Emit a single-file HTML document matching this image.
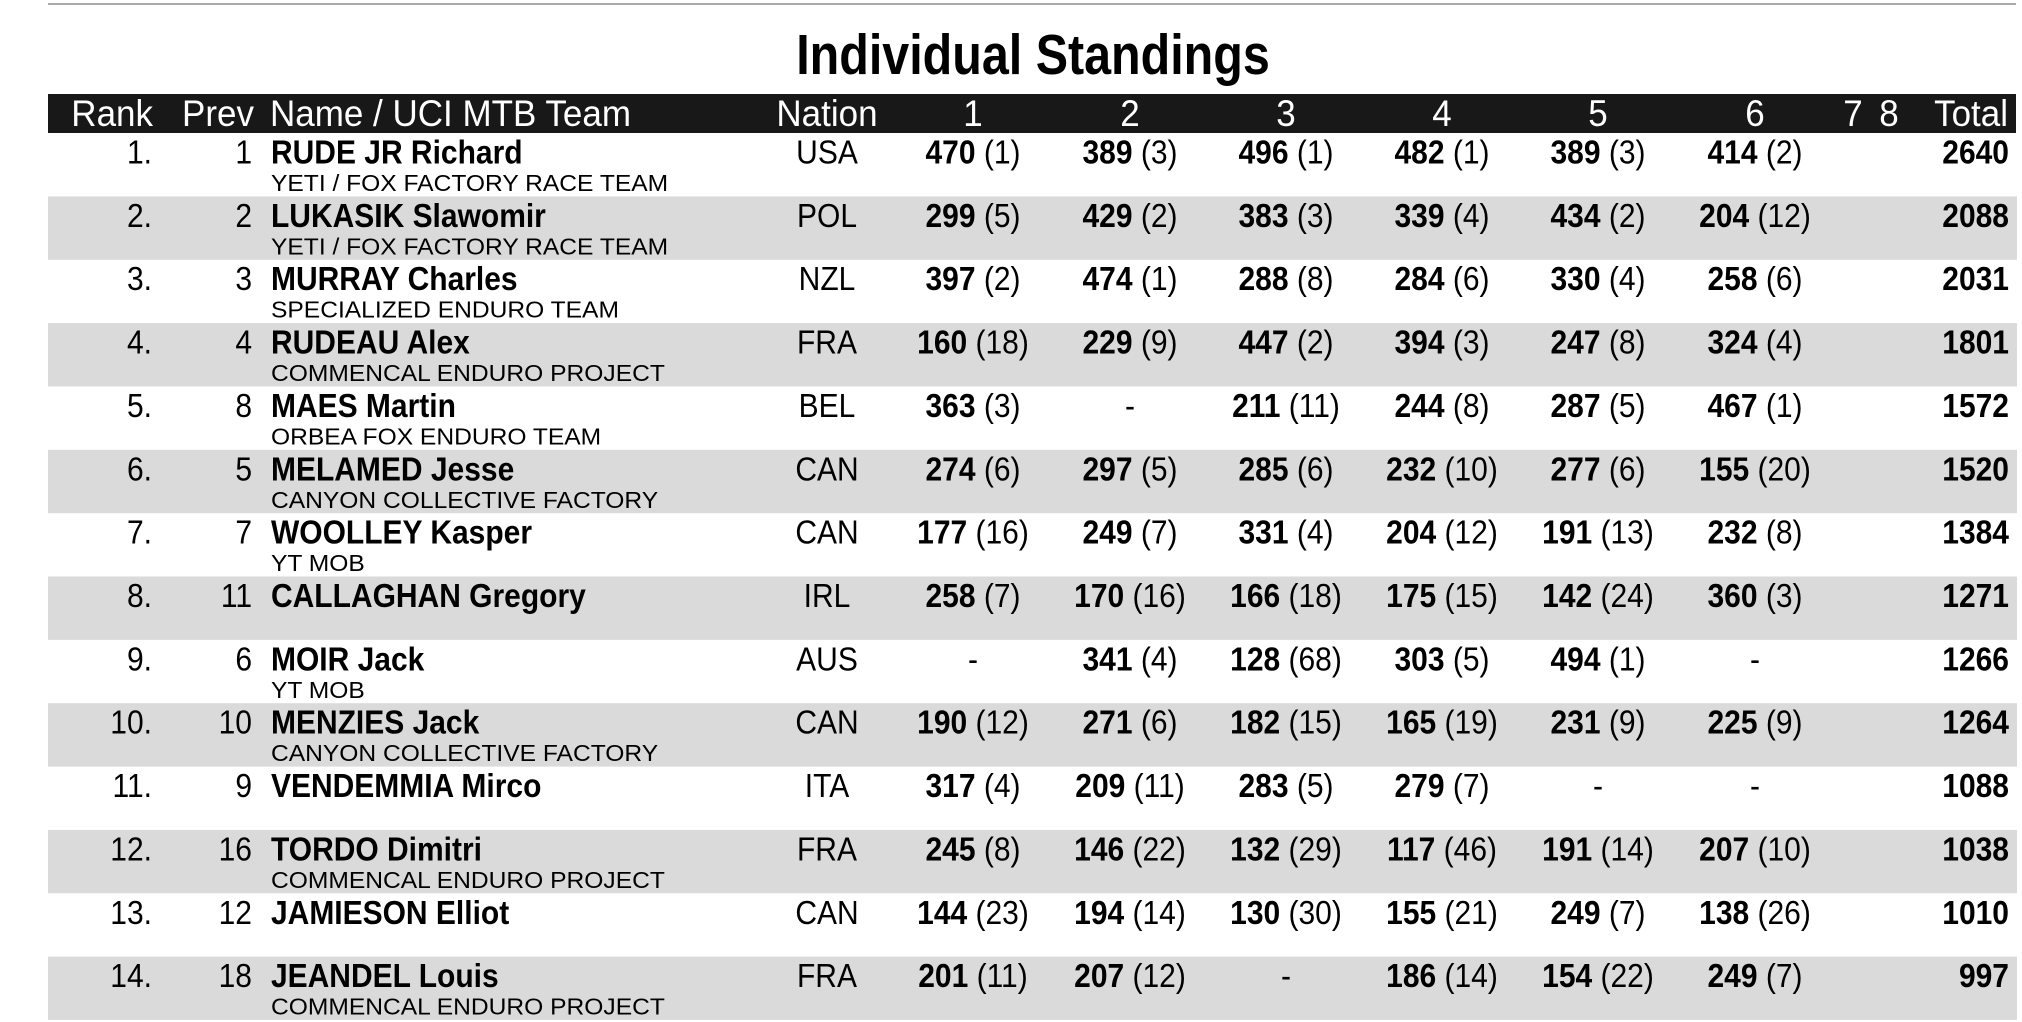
<!DOCTYPE html>
<html>
<head>
<meta charset="utf-8">
<style>
  html, body { margin:0; padding:0; background:#fff; }
  svg { display:block; }
  text { font-family: "Liberation Sans", Arial, sans-serif; fill:#000; }
  .hd { fill:#fff; font-size:35px; }
  .d { font-size:30px; }
  .b { font-weight:bold; }
  .tm { font-size:23px; }
</style>
</head>
<body>
<svg width="2022" height="1022" viewBox="0 0 2022 1022" xmlns="http://www.w3.org/2000/svg">
  <rect x="0" y="0" width="2022" height="1022" fill="#fff"/>
  <rect x="48" y="3" width="1968" height="2" fill="#a8a8a8"/>
  <text class="b" font-size="57" text-anchor="middle" transform="translate(1033,74) scale(0.85,1)">Individual Standings</text>

  <!-- row backgrounds -->
  <rect x="48" y="196.4" width="1969" height="63.4" fill="#dadada"/>
  <rect x="48" y="323.1" width="1969" height="63.4" fill="#dadada"/>
  <rect x="48" y="449.8" width="1969" height="63.4" fill="#dadada"/>
  <rect x="48" y="576.5" width="1969" height="63.4" fill="#dadada"/>
  <rect x="48" y="703.2" width="1969" height="63.4" fill="#dadada"/>
  <rect x="48" y="829.9" width="1969" height="63.4" fill="#dadada"/>
  <rect x="48" y="956.6" width="1969" height="63.4" fill="#dadada"/>

  <!-- header -->
  <rect x="48" y="94" width="1968" height="39" fill="#181818"/>
  <g transform="translate(0,126) scale(1,1.05)">
    <text class="hd" x="153" y="0" text-anchor="end">Rank</text>
    <text class="hd" x="254" y="0" text-anchor="end">Prev</text>
    <text class="hd" x="270" y="0">Name / UCI MTB Team</text>
    <text class="hd" x="827" y="0" text-anchor="middle">Nation</text>
    <text class="hd" x="973" y="0" text-anchor="middle">1</text>
    <text class="hd" x="1130" y="0" text-anchor="middle">2</text>
    <text class="hd" x="1286" y="0" text-anchor="middle">3</text>
    <text class="hd" x="1442" y="0" text-anchor="middle">4</text>
    <text class="hd" x="1598" y="0" text-anchor="middle">5</text>
    <text class="hd" x="1755" y="0" text-anchor="middle">6</text>
    <text class="hd" x="1853" y="0" text-anchor="middle">7</text>
    <text class="hd" x="1889" y="0" text-anchor="middle">8</text>
    <text class="hd" x="2008" y="0" text-anchor="end">Total</text>
  </g>

  <!-- Row 1 -->
  <g transform="translate(0,133)">
    <g transform="translate(0,30.5) scale(1,1.1)">
      <text class="d" x="152" y="0" text-anchor="end">1.</text>
      <text class="d" x="252" y="0" text-anchor="end">1</text>
      <text class="d b" x="271" y="0">RUDE JR Richard</text>
      <text class="d" x="827" y="0" text-anchor="middle">USA</text>
      <text class="d" x="973" y="0" text-anchor="middle"><tspan class="b">470</tspan> (1)</text>
      <text class="d" x="1130" y="0" text-anchor="middle"><tspan class="b">389</tspan> (3)</text>
      <text class="d" x="1286" y="0" text-anchor="middle"><tspan class="b">496</tspan> (1)</text>
      <text class="d" x="1442" y="0" text-anchor="middle"><tspan class="b">482</tspan> (1)</text>
      <text class="d" x="1598" y="0" text-anchor="middle"><tspan class="b">389</tspan> (3)</text>
      <text class="d" x="1755" y="0" text-anchor="middle"><tspan class="b">414</tspan> (2)</text>
      <text class="d b" x="2009" y="0" text-anchor="end">2640</text>
    </g>
    <text class="tm" transform="translate(271,58) scale(1.07,1)">YETI / FOX FACTORY RACE TEAM</text>
  </g>

  <!-- Row 2 -->
  <g transform="translate(0,196.4)">
    <g transform="translate(0,30.5) scale(1,1.1)">
      <text class="d" x="152" y="0" text-anchor="end">2.</text>
      <text class="d" x="252" y="0" text-anchor="end">2</text>
      <text class="d b" x="271" y="0">LUKASIK Slawomir</text>
      <text class="d" x="827" y="0" text-anchor="middle">POL</text>
      <text class="d" x="973" y="0" text-anchor="middle"><tspan class="b">299</tspan> (5)</text>
      <text class="d" x="1130" y="0" text-anchor="middle"><tspan class="b">429</tspan> (2)</text>
      <text class="d" x="1286" y="0" text-anchor="middle"><tspan class="b">383</tspan> (3)</text>
      <text class="d" x="1442" y="0" text-anchor="middle"><tspan class="b">339</tspan> (4)</text>
      <text class="d" x="1598" y="0" text-anchor="middle"><tspan class="b">434</tspan> (2)</text>
      <text class="d" x="1755" y="0" text-anchor="middle"><tspan class="b">204</tspan> (12)</text>
      <text class="d b" x="2009" y="0" text-anchor="end">2088</text>
    </g>
    <text class="tm" transform="translate(271,58) scale(1.07,1)">YETI / FOX FACTORY RACE TEAM</text>
  </g>

  <!-- Row 3 -->
  <g transform="translate(0,259.7)">
    <g transform="translate(0,30.5) scale(1,1.1)">
      <text class="d" x="152" y="0" text-anchor="end">3.</text>
      <text class="d" x="252" y="0" text-anchor="end">3</text>
      <text class="d b" x="271" y="0">MURRAY Charles</text>
      <text class="d" x="827" y="0" text-anchor="middle">NZL</text>
      <text class="d" x="973" y="0" text-anchor="middle"><tspan class="b">397</tspan> (2)</text>
      <text class="d" x="1130" y="0" text-anchor="middle"><tspan class="b">474</tspan> (1)</text>
      <text class="d" x="1286" y="0" text-anchor="middle"><tspan class="b">288</tspan> (8)</text>
      <text class="d" x="1442" y="0" text-anchor="middle"><tspan class="b">284</tspan> (6)</text>
      <text class="d" x="1598" y="0" text-anchor="middle"><tspan class="b">330</tspan> (4)</text>
      <text class="d" x="1755" y="0" text-anchor="middle"><tspan class="b">258</tspan> (6)</text>
      <text class="d b" x="2009" y="0" text-anchor="end">2031</text>
    </g>
    <text class="tm" transform="translate(271,58) scale(1.07,1)">SPECIALIZED ENDURO TEAM</text>
  </g>

  <!-- Row 4 -->
  <g transform="translate(0,323.1)">
    <g transform="translate(0,30.5) scale(1,1.1)">
      <text class="d" x="152" y="0" text-anchor="end">4.</text>
      <text class="d" x="252" y="0" text-anchor="end">4</text>
      <text class="d b" x="271" y="0">RUDEAU Alex</text>
      <text class="d" x="827" y="0" text-anchor="middle">FRA</text>
      <text class="d" x="973" y="0" text-anchor="middle"><tspan class="b">160</tspan> (18)</text>
      <text class="d" x="1130" y="0" text-anchor="middle"><tspan class="b">229</tspan> (9)</text>
      <text class="d" x="1286" y="0" text-anchor="middle"><tspan class="b">447</tspan> (2)</text>
      <text class="d" x="1442" y="0" text-anchor="middle"><tspan class="b">394</tspan> (3)</text>
      <text class="d" x="1598" y="0" text-anchor="middle"><tspan class="b">247</tspan> (8)</text>
      <text class="d" x="1755" y="0" text-anchor="middle"><tspan class="b">324</tspan> (4)</text>
      <text class="d b" x="2009" y="0" text-anchor="end">1801</text>
    </g>
    <text class="tm" transform="translate(271,58) scale(1.07,1)">COMMENCAL ENDURO PROJECT</text>
  </g>

  <!-- Row 5 -->
  <g transform="translate(0,386.4)">
    <g transform="translate(0,30.5) scale(1,1.1)">
      <text class="d" x="152" y="0" text-anchor="end">5.</text>
      <text class="d" x="252" y="0" text-anchor="end">8</text>
      <text class="d b" x="271" y="0">MAES Martin</text>
      <text class="d" x="827" y="0" text-anchor="middle">BEL</text>
      <text class="d" x="973" y="0" text-anchor="middle"><tspan class="b">363</tspan> (3)</text>
      <text class="d" x="1130" y="0" text-anchor="middle">-</text>
      <text class="d" x="1286" y="0" text-anchor="middle"><tspan class="b">211</tspan> (11)</text>
      <text class="d" x="1442" y="0" text-anchor="middle"><tspan class="b">244</tspan> (8)</text>
      <text class="d" x="1598" y="0" text-anchor="middle"><tspan class="b">287</tspan> (5)</text>
      <text class="d" x="1755" y="0" text-anchor="middle"><tspan class="b">467</tspan> (1)</text>
      <text class="d b" x="2009" y="0" text-anchor="end">1572</text>
    </g>
    <text class="tm" transform="translate(271,58) scale(1.07,1)">ORBEA FOX ENDURO TEAM</text>
  </g>

  <!-- Row 6 -->
  <g transform="translate(0,449.8)">
    <g transform="translate(0,30.5) scale(1,1.1)">
      <text class="d" x="152" y="0" text-anchor="end">6.</text>
      <text class="d" x="252" y="0" text-anchor="end">5</text>
      <text class="d b" x="271" y="0">MELAMED Jesse</text>
      <text class="d" x="827" y="0" text-anchor="middle">CAN</text>
      <text class="d" x="973" y="0" text-anchor="middle"><tspan class="b">274</tspan> (6)</text>
      <text class="d" x="1130" y="0" text-anchor="middle"><tspan class="b">297</tspan> (5)</text>
      <text class="d" x="1286" y="0" text-anchor="middle"><tspan class="b">285</tspan> (6)</text>
      <text class="d" x="1442" y="0" text-anchor="middle"><tspan class="b">232</tspan> (10)</text>
      <text class="d" x="1598" y="0" text-anchor="middle"><tspan class="b">277</tspan> (6)</text>
      <text class="d" x="1755" y="0" text-anchor="middle"><tspan class="b">155</tspan> (20)</text>
      <text class="d b" x="2009" y="0" text-anchor="end">1520</text>
    </g>
    <text class="tm" transform="translate(271,58) scale(1.07,1)">CANYON COLLECTIVE FACTORY</text>
  </g>

  <!-- Row 7 -->
  <g transform="translate(0,513.2)">
    <g transform="translate(0,30.5) scale(1,1.1)">
      <text class="d" x="152" y="0" text-anchor="end">7.</text>
      <text class="d" x="252" y="0" text-anchor="end">7</text>
      <text class="d b" x="271" y="0">WOOLLEY Kasper</text>
      <text class="d" x="827" y="0" text-anchor="middle">CAN</text>
      <text class="d" x="973" y="0" text-anchor="middle"><tspan class="b">177</tspan> (16)</text>
      <text class="d" x="1130" y="0" text-anchor="middle"><tspan class="b">249</tspan> (7)</text>
      <text class="d" x="1286" y="0" text-anchor="middle"><tspan class="b">331</tspan> (4)</text>
      <text class="d" x="1442" y="0" text-anchor="middle"><tspan class="b">204</tspan> (12)</text>
      <text class="d" x="1598" y="0" text-anchor="middle"><tspan class="b">191</tspan> (13)</text>
      <text class="d" x="1755" y="0" text-anchor="middle"><tspan class="b">232</tspan> (8)</text>
      <text class="d b" x="2009" y="0" text-anchor="end">1384</text>
    </g>
    <text class="tm" transform="translate(271,58) scale(1.07,1)">YT MOB</text>
  </g>

  <!-- Row 8 -->
  <g transform="translate(0,576.5)">
    <g transform="translate(0,30.5) scale(1,1.1)">
      <text class="d" x="152" y="0" text-anchor="end">8.</text>
      <text class="d" x="252" y="0" text-anchor="end">11</text>
      <text class="d b" x="271" y="0">CALLAGHAN Gregory</text>
      <text class="d" x="827" y="0" text-anchor="middle">IRL</text>
      <text class="d" x="973" y="0" text-anchor="middle"><tspan class="b">258</tspan> (7)</text>
      <text class="d" x="1130" y="0" text-anchor="middle"><tspan class="b">170</tspan> (16)</text>
      <text class="d" x="1286" y="0" text-anchor="middle"><tspan class="b">166</tspan> (18)</text>
      <text class="d" x="1442" y="0" text-anchor="middle"><tspan class="b">175</tspan> (15)</text>
      <text class="d" x="1598" y="0" text-anchor="middle"><tspan class="b">142</tspan> (24)</text>
      <text class="d" x="1755" y="0" text-anchor="middle"><tspan class="b">360</tspan> (3)</text>
      <text class="d b" x="2009" y="0" text-anchor="end">1271</text>
    </g>
  </g>

  <!-- Row 9 -->
  <g transform="translate(0,639.9)">
    <g transform="translate(0,30.5) scale(1,1.1)">
      <text class="d" x="152" y="0" text-anchor="end">9.</text>
      <text class="d" x="252" y="0" text-anchor="end">6</text>
      <text class="d b" x="271" y="0">MOIR Jack</text>
      <text class="d" x="827" y="0" text-anchor="middle">AUS</text>
      <text class="d" x="973" y="0" text-anchor="middle">-</text>
      <text class="d" x="1130" y="0" text-anchor="middle"><tspan class="b">341</tspan> (4)</text>
      <text class="d" x="1286" y="0" text-anchor="middle"><tspan class="b">128</tspan> (68)</text>
      <text class="d" x="1442" y="0" text-anchor="middle"><tspan class="b">303</tspan> (5)</text>
      <text class="d" x="1598" y="0" text-anchor="middle"><tspan class="b">494</tspan> (1)</text>
      <text class="d" x="1755" y="0" text-anchor="middle">-</text>
      <text class="d b" x="2009" y="0" text-anchor="end">1266</text>
    </g>
    <text class="tm" transform="translate(271,58) scale(1.07,1)">YT MOB</text>
  </g>

  <!-- Row 10 -->
  <g transform="translate(0,703.2)">
    <g transform="translate(0,30.5) scale(1,1.1)">
      <text class="d" x="152" y="0" text-anchor="end">10.</text>
      <text class="d" x="252" y="0" text-anchor="end">10</text>
      <text class="d b" x="271" y="0">MENZIES Jack</text>
      <text class="d" x="827" y="0" text-anchor="middle">CAN</text>
      <text class="d" x="973" y="0" text-anchor="middle"><tspan class="b">190</tspan> (12)</text>
      <text class="d" x="1130" y="0" text-anchor="middle"><tspan class="b">271</tspan> (6)</text>
      <text class="d" x="1286" y="0" text-anchor="middle"><tspan class="b">182</tspan> (15)</text>
      <text class="d" x="1442" y="0" text-anchor="middle"><tspan class="b">165</tspan> (19)</text>
      <text class="d" x="1598" y="0" text-anchor="middle"><tspan class="b">231</tspan> (9)</text>
      <text class="d" x="1755" y="0" text-anchor="middle"><tspan class="b">225</tspan> (9)</text>
      <text class="d b" x="2009" y="0" text-anchor="end">1264</text>
    </g>
    <text class="tm" transform="translate(271,58) scale(1.07,1)">CANYON COLLECTIVE FACTORY</text>
  </g>

  <!-- Row 11 -->
  <g transform="translate(0,766.6)">
    <g transform="translate(0,30.5) scale(1,1.1)">
      <text class="d" x="152" y="0" text-anchor="end">11.</text>
      <text class="d" x="252" y="0" text-anchor="end">9</text>
      <text class="d b" x="271" y="0">VENDEMMIA Mirco</text>
      <text class="d" x="827" y="0" text-anchor="middle">ITA</text>
      <text class="d" x="973" y="0" text-anchor="middle"><tspan class="b">317</tspan> (4)</text>
      <text class="d" x="1130" y="0" text-anchor="middle"><tspan class="b">209</tspan> (11)</text>
      <text class="d" x="1286" y="0" text-anchor="middle"><tspan class="b">283</tspan> (5)</text>
      <text class="d" x="1442" y="0" text-anchor="middle"><tspan class="b">279</tspan> (7)</text>
      <text class="d" x="1598" y="0" text-anchor="middle">-</text>
      <text class="d" x="1755" y="0" text-anchor="middle">-</text>
      <text class="d b" x="2009" y="0" text-anchor="end">1088</text>
    </g>
  </g>

  <!-- Row 12 -->
  <g transform="translate(0,829.9)">
    <g transform="translate(0,30.5) scale(1,1.1)">
      <text class="d" x="152" y="0" text-anchor="end">12.</text>
      <text class="d" x="252" y="0" text-anchor="end">16</text>
      <text class="d b" x="271" y="0">TORDO Dimitri</text>
      <text class="d" x="827" y="0" text-anchor="middle">FRA</text>
      <text class="d" x="973" y="0" text-anchor="middle"><tspan class="b">245</tspan> (8)</text>
      <text class="d" x="1130" y="0" text-anchor="middle"><tspan class="b">146</tspan> (22)</text>
      <text class="d" x="1286" y="0" text-anchor="middle"><tspan class="b">132</tspan> (29)</text>
      <text class="d" x="1442" y="0" text-anchor="middle"><tspan class="b">117</tspan> (46)</text>
      <text class="d" x="1598" y="0" text-anchor="middle"><tspan class="b">191</tspan> (14)</text>
      <text class="d" x="1755" y="0" text-anchor="middle"><tspan class="b">207</tspan> (10)</text>
      <text class="d b" x="2009" y="0" text-anchor="end">1038</text>
    </g>
    <text class="tm" transform="translate(271,58) scale(1.07,1)">COMMENCAL ENDURO PROJECT</text>
  </g>

  <!-- Row 13 -->
  <g transform="translate(0,893.3)">
    <g transform="translate(0,30.5) scale(1,1.1)">
      <text class="d" x="152" y="0" text-anchor="end">13.</text>
      <text class="d" x="252" y="0" text-anchor="end">12</text>
      <text class="d b" x="271" y="0">JAMIESON Elliot</text>
      <text class="d" x="827" y="0" text-anchor="middle">CAN</text>
      <text class="d" x="973" y="0" text-anchor="middle"><tspan class="b">144</tspan> (23)</text>
      <text class="d" x="1130" y="0" text-anchor="middle"><tspan class="b">194</tspan> (14)</text>
      <text class="d" x="1286" y="0" text-anchor="middle"><tspan class="b">130</tspan> (30)</text>
      <text class="d" x="1442" y="0" text-anchor="middle"><tspan class="b">155</tspan> (21)</text>
      <text class="d" x="1598" y="0" text-anchor="middle"><tspan class="b">249</tspan> (7)</text>
      <text class="d" x="1755" y="0" text-anchor="middle"><tspan class="b">138</tspan> (26)</text>
      <text class="d b" x="2009" y="0" text-anchor="end">1010</text>
    </g>
  </g>

  <!-- Row 14 -->
  <g transform="translate(0,956.6)">
    <g transform="translate(0,30.5) scale(1,1.1)">
      <text class="d" x="152" y="0" text-anchor="end">14.</text>
      <text class="d" x="252" y="0" text-anchor="end">18</text>
      <text class="d b" x="271" y="0">JEANDEL Louis</text>
      <text class="d" x="827" y="0" text-anchor="middle">FRA</text>
      <text class="d" x="973" y="0" text-anchor="middle"><tspan class="b">201</tspan> (11)</text>
      <text class="d" x="1130" y="0" text-anchor="middle"><tspan class="b">207</tspan> (12)</text>
      <text class="d" x="1286" y="0" text-anchor="middle">-</text>
      <text class="d" x="1442" y="0" text-anchor="middle"><tspan class="b">186</tspan> (14)</text>
      <text class="d" x="1598" y="0" text-anchor="middle"><tspan class="b">154</tspan> (22)</text>
      <text class="d" x="1755" y="0" text-anchor="middle"><tspan class="b">249</tspan> (7)</text>
      <text class="d b" x="2009" y="0" text-anchor="end">997</text>
    </g>
    <text class="tm" transform="translate(271,58) scale(1.07,1)">COMMENCAL ENDURO PROJECT</text>
  </g>
</svg>
</body>
</html>
